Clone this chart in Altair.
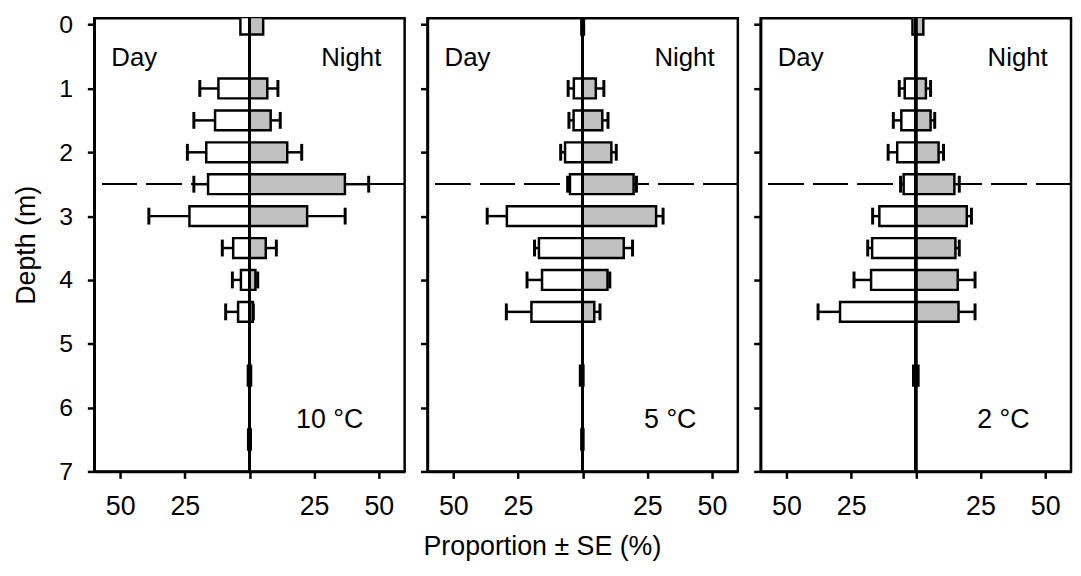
import altair as alt
import pandas as pd

depths = [0, 1, 1.5, 2, 2.5, 3, 3.5, 4, 4.5, 5.5, 6.5]
temps = ["10 °C", "5 °C", "2 °C"]

day_10 = [3.5, 12.0, 13.3, 16.7, 16.0, 23.2, 6.3, 3.3, 4.4, 0.6, 0.5]
day_10_se = [0, 7.2, 8.2, 7.3, 5.5, 15.7, 4.2, 3.3, 4.8, 0, 0]
night_10 = [5.3, 6.9, 8.2, 14.6, 36.9, 22.3, 6.3, 2.3, 1.3, 0.6, 0.5]
night_10_se = [0, 4.1, 3.7, 5.6, 9.2, 14.7, 4.1, 0.9, 0.2, 0, 0]

day_5 = [0.5, 3.4, 3.5, 6.8, 4.9, 29.3, 16.9, 15.7, 19.8, 1.0, 0.5]
day_5_se = [0, 2.2, 1.8, 1.7, 0.9, 7.6, 1.7, 5.8, 9.7, 0, 0]
night_5 = [0.5, 5.1, 7.6, 11.1, 19.7, 28.4, 15.9, 9.6, 4.5, 0.3, 0.3]
night_5_se = [0, 3.1, 2.2, 1.9, 1.1, 2.7, 3.4, 0.9, 2.2, 0, 0]

day_2 = [1.3, 4.3, 5.6, 7.2, 4.7, 14.1, 16.9, 17.3, 29.3, 1.0, 0]
day_2_se = [0, 2.1, 3.1, 3.5, 1.2, 2.6, 1.7, 6.6, 8.5, 0, 0]
night_2 = [2.9, 3.9, 5.7, 8.8, 14.9, 19.7, 15.3, 16.2, 16.5, 1.0, 0]
night_2_se = [0, 1.8, 1.6, 1.9, 1.9, 1.8, 1.5, 6.7, 6.4, 0, 0]

series = {
    "10 °C": (day_10, day_10_se, night_10, night_10_se),
    "5 °C": (day_5, day_5_se, night_5, night_5_se),
    "2 °C": (day_2, day_2_se, night_2, night_2_se),
}

FONT = "Liberation Sans"
W, H = 313, 457


def panel_df(temp):
    d, dse, n, nse = series[temp]
    rows = []
    for i, dep in enumerate(depths):
        if d[i] > 0:
            rows.append(dict(depth=dep, side="Day", x=-d[i], x0=0, xe=-(d[i] + dse[i]), se=dse[i]))
        if n[i] > 0:
            rows.append(dict(depth=dep, side="Night", x=n[i], x0=0, xe=n[i] + nse[i], se=nse[i]))
    return pd.DataFrame(rows)


def panel(temp, first):
    df = panel_df(temp)
    errdf = df[df["se"] > 0]
    xscale = alt.Scale(domain=[-60, 60], nice=False, zero=False, padding=0)
    yscale = alt.Scale(domain=[-0.1, 7], reverse=True, nice=False, zero=False, padding=0)
    xaxis = alt.Axis(values=[-50, -25, 0, 25, 50],
                     labelExpr="datum.value == 0 ? '' : '' + abs(datum.value)",
                     title=None, grid=False, tickSize=7, labelPadding=15,
                     labelFontSize=27)
    if first:
        yaxis = alt.Axis(values=list(range(8)), title="Depth (m)", grid=False,
                         tickSize=7, labelPadding=15, titlePadding=18,
                         labelFontSize=25)
    else:
        yaxis = alt.Axis(values=list(range(8)), title=None, labels=False,
                         grid=False, tickSize=7)

    base = alt.Chart(df)
    dash = alt.Chart(df).mark_rule(color="black", strokeWidth=1.5, strokeDash=[35, 10]).encode(
        y=alt.datum(2.5, scale=yscale, axis=yaxis)
    )
    err = alt.Chart(errdf).mark_rule(color="black", strokeWidth=2.5).encode(
        x=alt.X("x:Q", scale=xscale, axis=xaxis), x2="xe:Q",
        y=alt.Y("depth:Q", scale=yscale, axis=yaxis)
    )
    caps = alt.Chart(errdf).mark_tick(color="black", orient="vertical", size=17,
                                      thickness=3, opacity=1).encode(
        x=alt.X("xe:Q", scale=xscale, axis=xaxis),
        y=alt.Y("depth:Q", scale=yscale, axis=yaxis)
    )
    bars = base.mark_bar(stroke="black", strokeWidth=2.5, size=20, clip=True).encode(
        x=alt.X("x:Q", scale=xscale, axis=xaxis), x2="x0:Q",
        y=alt.Y("depth:Q", scale=yscale, axis=yaxis),
        fill=alt.Fill("side:N", scale=alt.Scale(domain=["Day", "Night"],
                                                range=["white", "#c0c0c0"]), legend=None),
    )
    center = alt.Chart(df).mark_rule(color="black", strokeWidth=2.5).encode(
        x=alt.datum(0, scale=xscale, axis=xaxis)
    )
    txt = pd.DataFrame({
        "label": ["Day", "Night", temp],
        "x": [-53.4, 51, 44],
        "y": [0.53, 0.53, 6.2],
        "size": [26, 26, 27],
        "align": ["left", "right", "right"],
    })
    tl = alt.Chart(txt[txt["align"] == "left"]).mark_text(
        align="left", baseline="middle", fontSize=26, font=FONT, color="black").encode(
        x=alt.X("x:Q", scale=xscale, axis=xaxis), y=alt.Y("y:Q", scale=yscale, axis=yaxis),
        text="label:N")
    tr = alt.Chart(txt[txt["align"] == "right"]).mark_text(
        align="right", baseline="middle", font=FONT, color="black").encode(
        x=alt.X("x:Q", scale=xscale, axis=xaxis), y=alt.Y("y:Q", scale=yscale, axis=yaxis),
        text="label:N", size=alt.Size("size:Q", scale=None, legend=None))
    return alt.layer(dash, err, bars, center, caps, tl, tr).properties(width=W, height=H)


chart = alt.hconcat(
    panel("10 °C", True), panel("5 °C", False), panel("2 °C", False), spacing=11
).properties(
    title=alt.TitleParams("Proportion ± SE (%)", orient="bottom", anchor="middle",
                          fontSize=27, font=FONT, fontWeight="normal", color="black",
                          offset=14),
    padding={"left": 3, "top": 1, "right": 0, "bottom": 0},
).configure_view(
    stroke="black", strokeWidth=2.5
).configure_axis(
    domainColor="black", domainWidth=2.5, tickColor="black", tickWidth=2.5,
    labelColor="black", labelFont=FONT,
    titleColor="black", titleFont=FONT, titleFontSize=27, titleFontWeight="normal",
)

chart.save("out.html", embed_options={"renderer": "svg", "actions": False})
